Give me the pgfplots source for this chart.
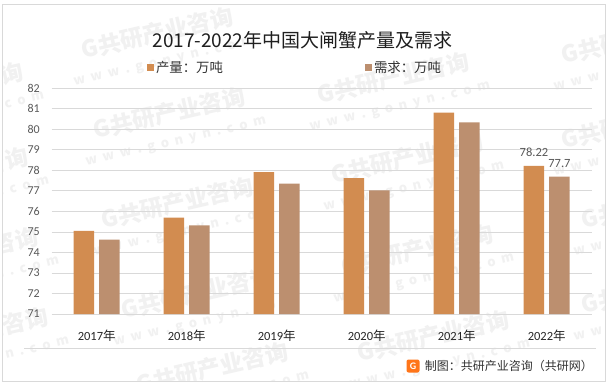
\documentclass[border=0pt]{standalone}
\usepackage{pgfplots}
\pgfplotsset{compat=1.18}
\usepackage{pgfplotstable}
\usepackage{fontspec}
\setmainfont{Carlito}
\newfontfamily\cjk{Noto Sans CJK SC}
\newcommand\cj[1]{{\cjk #1}}
\definecolor{prodc}{RGB}{210,140,80}
\definecolor{demc}{RGB}{188,143,111}
\definecolor{gridc}{RGB}{217,217,217}
\definecolor{txt}{RGB}{89,89,89}
\definecolor{wm}{RGB}{241,241,241}
% watermark: centre given in image pixels from the top-left corner
\newcommand\wmark[2]{\node[rotate=13, text=wm, inner sep=0pt, align=center, font=\cjk\bfseries\fontsize{23pt}{23pt}\selectfont] at (#1pt,{386pt-#2pt}) {G共研产业咨询\\[1pt]{\fontsize{13pt}{13pt}\selectfont w\ \ w\ \ w\ \ .\ \ g\ \ o\ \ n\ \ y\ \ n\ \ .\ \ c\ \ o\ \ m}};}
\pgfplotstableread{
x prod dem plab dlab
0 75.05 74.62 {} {}
1 75.70 75.32 {} {}
2 77.92 77.36 {} {}
3 77.62 77.03 {} {}
4 80.82 80.34 {} {}
5 78.22 77.70 78.22 77.7
}\data
\begin{document}
\begin{tikzpicture}
\useasboundingbox (0,0) rectangle (611pt,386pt);
\fill[white] (0,0) rectangle (611pt,386pt);
\begin{scope}
\clip (3pt,5pt) rectangle (604pt,381pt);
\wmark{160}{45}
\wmark{172}{125}
\wmark{180}{215}
\wmark{200}{305}
\wmark{215}{380}
\wmark{396}{90}
\wmark{410}{170}
\wmark{420}{262}
\wmark{436}{348}
\wmark{640}{50}
\wmark{640}{135}
\wmark{660}{215}
\wmark{660}{300}
\wmark{-50}{100}
\wmark{-45}{185}
\wmark{-35}{265}
\wmark{-25}{345}
\end{scope}
\draw[gridc, line width=0.8pt] (2.5pt,4.3pt) rectangle (605pt,382pt);
\node[font=\cjk\fontsize{19pt}{22pt}\selectfont, text=black!88, inner sep=0pt] at (302.5pt,346pt) {2017-2022年中国大闸蟹产量及需求};
\begin{axis}[
  at={(51.7pt,72pt)}, anchor=south west,
  scale only axis, width=540pt, height=225.7pt,
  ybar=5pt, bar width=20.5pt,
  xmin=-0.5, xmax=5.5, ymin=71, ymax=82,
  ytick={71,72,...,82},
  xtick=data,
  xticklabels={2017\cj{年},2018\cj{年},2019\cj{年},2020\cj{年},2021\cj{年},2022\cj{年}},
  /pgf/number format/assume math mode=true,
  axis line style={draw=none},
  ymajorgrids, grid style={gridc, line width=0.8pt},
  major tick length=0pt,
  yticklabel style={font=\fontsize{12pt}{14pt}\selectfont, text=txt, anchor=east, inner sep=0pt, xshift=-11.7pt},
  xticklabel style={font=\fontsize{12.5pt}{14pt}\selectfont, text=black!85, anchor=center, inner sep=0pt, yshift=-22pt},
  point meta=explicit symbolic,
  nodes near coords,
  nodes near coords style={font=\fontsize{12.5pt}{14pt}\selectfont, text=txt, inner sep=0pt, anchor=south, yshift=9pt},
  legend columns=2,
  legend style={draw=none, fill=none, at={(0.4506,1)}, anchor=center, yshift=20.6pt,
    font=\cjk\fontsize{13.4pt}{15pt}\selectfont, text=black!80,
    /tikz/every even column/.append style={column sep=140pt}},
  legend image code/.code={\fill[#1] (0pt,-3.5pt) rectangle (7pt,3.5pt);},
]
\addplot[fill=prodc, draw=none] table[x=x, y=prod, meta=plab] \data;
\addplot[fill=demc, draw=none] table[x=x, y=dem, meta=dlab] \data;
\legend{产量：万吨, 需求：万吨}
\end{axis}
\draw[gridc, line width=0.8pt] (24pt,38pt) -- (596pt,38pt);
\node[fill=orange!80!red!90, text=white, font=\bfseries\fontsize{10pt}{10pt}\selectfont, inner sep=1pt, rounded corners=2pt, minimum width=13pt, minimum height=13pt] at (413pt,20pt) {G};
\node[anchor=east, inner sep=0pt, font=\cjk\fontsize{12pt}{14pt}\selectfont, text=black!80] at (593pt,20pt) {制图：共研产业咨询（共研网）};
\end{tikzpicture}
\end{document}
